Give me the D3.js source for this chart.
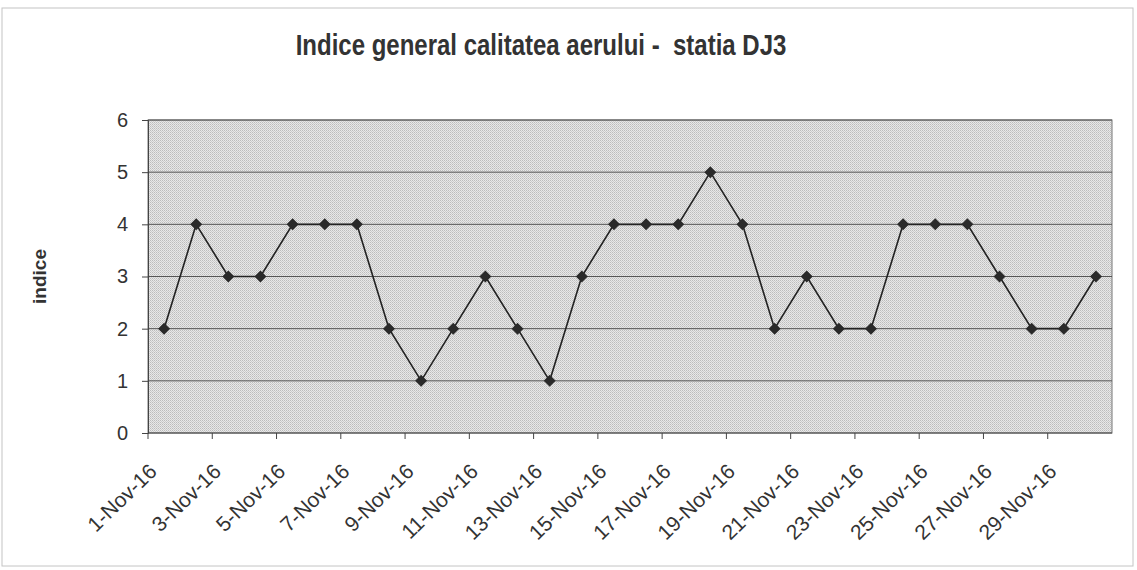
<!DOCTYPE html>
<html>
<head>
<meta charset="utf-8">
<script src="https://cdn.jsdelivr.net/npm/d3@7"></script>
<style>
  body { margin: 0; background: #fff; }
  text { font-family: "Liberation Sans", Arial, sans-serif; fill: #333; }
</style>
</head>
<body>
<div id="chart"></div>
<script>
// days of November 2016
const days = d3.range(1, 31).map(d => d + '-Nov-16');
const indice = [2, 4, 3, 3, 4, 4, 4, 2, 1, 2, 3, 2, 1, 3, 4, 4, 4, 5, 4, 2, 3, 2, 2, 4, 4, 4, 3, 2, 2, 3];
const yTicks = [0, 1, 2, 3, 4, 5, 6];
const title = 'Indice general calitatea aerului -  statia DJ3';
const yLabel = 'indice';

let width = 1137,
    height = 570,
    margin = {top: 120, right: 25, bottom: 137, left: 148};

let svg = d3.select('#chart').append('svg')
    .attr('width', width)
    .attr('height', height);

// chart area border
svg.append('rect')
    .attr('x', 2).attr('y', 8)
    .attr('width', width - 6).attr('height', height - 12)
    .attr('fill', 'none')
    .attr('stroke', '#c4c4c4')
    .attr('stroke-width', 1);

let x = d3.scaleBand()
    .domain(days)
    .range([margin.left, width - margin.right]);

let y = d3.scaleLinear()
    .domain([0, 6])
    .range([height - margin.bottom, margin.top]);

// stippled plot background
let defs = svg.append('defs');
let pat = defs.append('pattern')
    .attr('id', 'stipple')
    .attr('width', 2).attr('height', 2)
    .attr('patternUnits', 'userSpaceOnUse');
pat.append('rect').attr('width', 2).attr('height', 2).attr('fill', '#e8e8e8');
pat.append('rect').attr('width', 1).attr('height', 1).attr('fill', '#bcbcbc');
pat.append('rect').attr('x', 1).attr('y', 1).attr('width', 1).attr('height', 1).attr('fill', '#cccccc');

svg.append('rect')
    .attr('x', margin.left).attr('y', margin.top)
    .attr('width', width - margin.left - margin.right)
    .attr('height', height - margin.top - margin.bottom)
    .attr('fill', 'url(#stipple)')
    .attr('stroke', '#777')
    .attr('stroke-width', 1);

// gridlines
svg.append('g')
    .selectAll('line')
    .data(yTicks.filter(t => t > 0))
    .join('line')
    .attr('x1', margin.left).attr('x2', width - margin.right)
    .attr('y1', d => y(d)).attr('y2', d => y(d))
    .attr('stroke', '#555')
    .attr('stroke-width', 1);

// y axis
let yAxis = svg.append('g')
    .attr('transform', `translate(${margin.left},0)`)
    .call(d3.axisLeft(y).tickValues(yTicks).tickFormat(d3.format('d')).tickSize(6).tickPadding(14));
yAxis.select('.domain').attr('stroke', '#444');
yAxis.selectAll('.tick line').attr('stroke', '#444');
yAxis.selectAll('text').attr('font-size', 20).attr('fill', '#333')
    .attr('font-family', '"Liberation Sans", Arial, sans-serif');

// x axis: ticks every 2 days at band edges
let xg = svg.append('g')
    .attr('transform', `translate(0,${height - margin.bottom})`);
xg.append('line')
    .attr('x1', margin.left).attr('x2', width - margin.right)
    .attr('stroke', '#444');
xg.selectAll('.xt')
    .data(days.filter((d, i) => i % 2 === 0))
    .join('line')
    .attr('class', 'xt')
    .attr('x1', d => x(d)).attr('x2', d => x(d))
    .attr('y1', 0).attr('y2', 6)
    .attr('stroke', '#444');
xg.selectAll('.xl')
    .data(days.filter((d, i) => i % 2 === 0))
    .join('text')
    .attr('class', 'xl')
    .attr('text-anchor', 'end')
    .attr('font-size', 21)
    .attr('transform', d => `translate(${x(d) + x.bandwidth() / 2 - 6},${40}) rotate(-44)`)
    .text(d => d);

// line
let line = d3.line()
    .x((d, i) => x(days[i]) + x.bandwidth() / 2)
    .y(d => y(d));

svg.append('path')
    .datum(indice)
    .attr('d', line)
    .attr('fill', 'none')
    .attr('stroke', '#222')
    .attr('stroke-width', 1.6);

// diamond markers
svg.append('g')
    .selectAll('path')
    .data(indice)
    .join('path')
    .attr('d', d3.symbol().type(d3.symbolSquare).size(72))
    .attr('transform', (d, i) => `translate(${x(days[i]) + x.bandwidth() / 2},${y(d)}) rotate(45)`)
    .attr('fill', '#2a2a2a');

// title
svg.append('text')
    .attr('transform', 'translate(541,55) scale(1,1.25)')
    .attr('text-anchor', 'middle')
    .attr('font-size', 24)
    .attr('font-weight', 'bold')
    .attr('xml:space', 'preserve')
    .style('white-space', 'pre')
    .text(title);

// y label
svg.append('text')
    .attr('transform', `translate(46,${(margin.top + height - margin.bottom) / 2}) rotate(-90)`)
    .attr('text-anchor', 'middle')
    .attr('font-size', 19)
    .attr('font-weight', 'bold')
    .text(yLabel);
</script>
</body>
</html>
